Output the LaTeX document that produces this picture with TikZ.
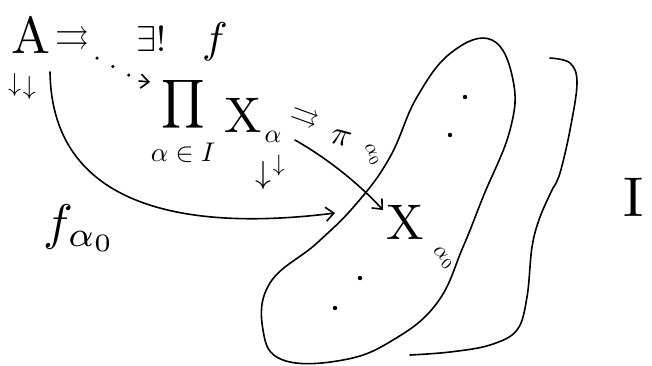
\documentclass[tikz,border=0pt]{standalone}
\usepackage{amssymb}
\usepackage{graphicx}
\usetikzlibrary{arrows.meta}
\newcommand{\hm}[2]{\scalebox{#1}{$#2$}}
\begin{document}
\begin{tikzpicture}[x=1pt,y=-1pt, line width=1.6pt, line cap=round, line join=round,
  hand/.style={inner sep=0pt, anchor=center},
  tip/.style={-{Straight Barb[length=8pt,width=14pt,line width=1.6pt]}}
]
\useasboundingbox (0,0) rectangle (652,365);
% labels
\node[hand] (A) at (31,36) {\hm{5.2}{\mathrm{A}}};
\node[hand] (arrA) at (72,38) {\hm{3.4}{\rightrightarrows}};
\node[hand] (ex) at (151,39) {\hm{3.6}{\exists!}};
\node[hand] (f) at (215,42) {\hm{4.3}{f}};
\node[hand] (dA) at (22,86) {\hm{2.6}{\downarrow}\,\raisebox{-3pt}{\hm{2.6}{\downarrow}}};
\node[hand] (prod) at (183,104) {\hm{3.4}{\displaystyle\prod}};
\node[hand] (idx) at (183,153) {\hm{2.7}{\alpha\in I}};
\node[hand] (Xa) at (243,115) {\hm{5}{\mathrm{X}}};
\node[hand] (aSub) at (273,137) {\hm{2.6}{\alpha}};
\node[hand] (dX) at (270,172) {\hm{3.2}{\downarrow}\,\raisebox{12pt}{\hm{2.4}{\downarrow}}};
\node[hand,rotate=-20] (rr) at (305,117) {\hm{2.8}{\rightrightarrows}};
\node[hand,rotate=-15] (pi) at (341,138) {\hm{3.4}{\pi}};
\node[hand,rotate=-60] (pisub) at (372,155) {\hm{2}{\alpha_0}};
\node[hand] (Xa0) at (405,222) {\hm{5}{\mathrm{X}}};
\node[hand,rotate=-45] (a0) at (443,258) {\hm{2.2}{\alpha_0}};
\node[hand] (fl) at (80,228) {\hm{5}{f_{\alpha_0}}};
\node[hand] (I) at (634,197) {\hm{5.6}{\mathrm{I}}};
% connector end points
\coordinate (dotS) at (97,58);
\coordinate (dotE) at (150,82);
\coordinate (fS) at (50,72);
\coordinate (fE) at (335,213);
\coordinate (pS) at (295,140);
\coordinate (pE) at (383,210);
% dotted arrow A -> prod
\draw[line width=3.5pt, dash pattern=on 0pt off 18pt] (dotS) -- (138,80);
\draw[tip] (139,81) -- (dotE);
% curved f_alpha0 arrow
\draw[tip] (fS) .. controls (52,215) and (200,230) .. (fE);
% pi arrow
\draw[tip] (pS) .. controls (330,160) and (360,185) .. (pE);
% blob
\draw plot[smooth cycle, tension=0.7] coordinates {
 (492,40) (513,80) (510,130) (483,197) (463,247) (437,303) (393,340)
 (343,360) (283,360) (263,330) (270,283) (317,243) (357,203) (390,157)
 (417,97) (452,52)};
% dots
\foreach \p in {(465,97),(450,135),(360,278),(335,308)} \fill \p circle (2.2pt);
% brace
\draw plot[smooth, tension=0.6] coordinates {(550,58) (570,63) (577,83) (570,130) (560,173) (553,188)};
\draw plot[smooth, tension=0.6] coordinates {(553,188) (540,217) (532,247) (527,297) (517,330) (490,345) (450,352) (410,355)};
\end{tikzpicture}
\end{document}
